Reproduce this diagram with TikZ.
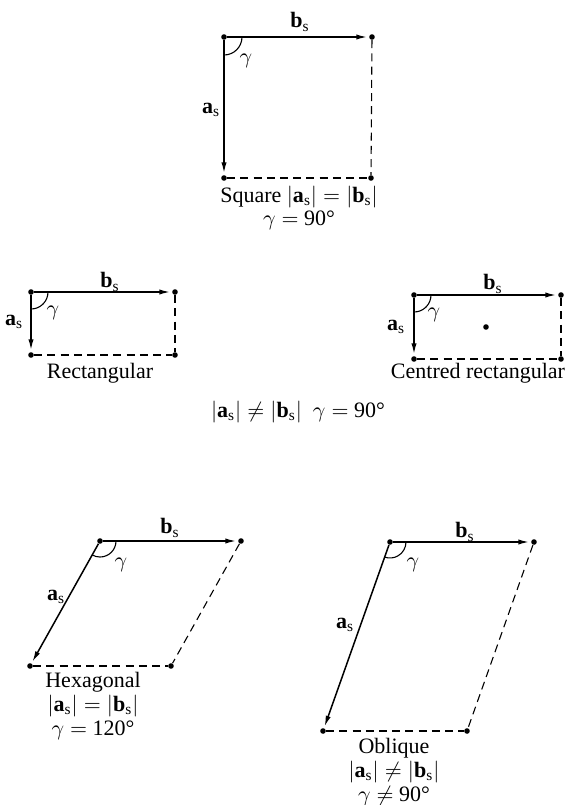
\documentclass[tikz,border=0pt]{standalone}
\usepackage{fontspec}
\setmainfont{Liberation Serif}
\usetikzlibrary{arrows.meta,positioning,calc}
\tikzset{
  site/.style={circle,fill=black,inner sep=0pt,minimum size=2.8pt},
  vec/.style={-{Latex[length=5.4pt,width=2.6pt]},line width=0.75pt,shorten >=0.8pt},
  cellside/.style={line width=0.55pt,dash pattern=on 4pt off 2.6pt},
  anglearc/.style={line width=0.55pt},
  lbl/.style={inner sep=0.5pt,font=\fontsize{11}{12.5}\selectfont},
  caption/.style={align=center,inner sep=0.5pt,font=\fontsize{11}{11.8}\selectfont}
}
\newcommand{\av}{$\mathbf{a}_\mathrm{s}$}
\newcommand{\bv}{$\mathbf{b}_\mathrm{s}$}
\begin{document}
\begin{tikzpicture}[x=0.5pt,y=-0.5pt]
  \useasboundingbox (0,0) rectangle (572,805);
  % square
  \node[site] (sq0) at (224,37) {};
  \node[site] (sqb) at (372,37) {};
  \node[site] (sqa) at (224,178) {};
  \node[site] (sqab) at (371,178) {};
  \draw[vec] (sq0) -- (sqb);
  \draw[vec] (sq0) -- (sqa);
  \draw[cellside] (sqb) -- (sqab);
  \draw[cellside] (sqa) -- (sqab);
  \draw[anglearc] (sq0) ++(18,0) arc[start angle=0,end angle=90,radius=18];
  \node[lbl] (sqbl) at (300,22) {\bv};
  \node[lbl] (sqal) at (211,110) {\av};
  \node[lbl] (sqgl) at (246,61) {$\gamma$};
  \node[caption] (sqcap) at (299,208) {Square $|\mathbf{a}_\mathrm{s}| = |\mathbf{b}_\mathrm{s}|$\\$\gamma =$ 90°};
  % rectangular
  \node[site] (rc0) at (31,292) {};
  \node[site] (rcb) at (175,292) {};
  \node[site] (rca) at (31,355) {};
  \node[site] (rcab) at (175,355) {};
  \draw[vec] (rc0) -- (rcb);
  \draw[vec] (rc0) -- (rca);
  \draw[cellside] (rcb) -- (rcab);
  \draw[cellside] (rca) -- (rcab);
  \draw[anglearc] (rc0) ++(17,0) arc[start angle=0,end angle=90,radius=17];
  \node[lbl] (rcbl) at (110,282) {\bv};
  \node[lbl] (rcal) at (14,322) {\av};
  \node[lbl] (rcgl) at (53,313) {$\gamma$};
  \node[caption] (rccap) at (100,373) {Rectangular};
  % centred rectangular
  \node[site] (cr0) at (414,295) {};
  \node[site] (crb) at (561,295) {};
  \node[site] (cra) at (414,359) {};
  \node[site] (crab) at (561,359) {};
  \node[site] (crc) at (486,327) {};
  \draw[vec] (cr0) -- (crb);
  \draw[vec] (cr0) -- (cra);
  \draw[cellside] (crb) -- (crab);
  \draw[cellside] (cra) -- (crab);
  \draw[anglearc] (cr0) ++(17,0) arc[start angle=0,end angle=90,radius=17];
  \node[lbl] (crbl) at (493,284) {\bv};
  \node[lbl] (cral) at (396,327) {\av};
  \node[lbl] (crgl) at (434,315) {$\gamma$};
  \node[caption] (crcap) at (478,373) {Centred rectangular};
  \node[caption] (rectcap) at (298,412) {$|\mathbf{a}_\mathrm{s}| \neq |\mathbf{b}_\mathrm{s}|$ \ $\gamma =$ 90°};
  % hexagonal
  \node[site] (hx0) at (100,541) {};
  \node[site] (hxb) at (241,541) {};
  \node[site] (hxa) at (30,666) {};
  \node[site] (hxab) at (171,666) {};
  \draw[vec] (hx0) -- (hxb);
  \draw[vec] (hx0) -- (hxa);
  \draw[cellside] (hxb) -- (hxab);
  \draw[cellside] (hxa) -- (hxab);
  \draw[anglearc] (hx0) ++(16,0) arc[start angle=0,end angle=119,radius=16];
  \node[lbl] (hxbl) at (170,528) {\bv};
  \node[lbl] (hxal) at (56,597) {\av};
  \node[lbl] (hxgl) at (121,565) {$\gamma$};
  \node[caption] (hxcap) at (93,706) {Hexagonal\\$|\mathbf{a}_\mathrm{s}| = |\mathbf{b}_\mathrm{s}|$\\$\gamma =$ 120°};
  % oblique
  \node[site] (ob0) at (390,542) {};
  \node[site] (obb) at (534,542) {};
  \node[site] (oba) at (323,731) {};
  \node[site] (obab) at (467,731) {};
  \draw[vec] (ob0) -- (obb);
  \draw[vec] (ob0) -- (oba);
  \draw[cellside] (obb) -- (obab);
  \draw[cellside] (oba) -- (obab);
  \draw[anglearc] (ob0) ++(16,0) arc[start angle=0,end angle=109.5,radius=16];
  \node[lbl] (obbl) at (465,532) {\bv};
  \node[lbl] (obal) at (345,625) {\av};
  \node[lbl] (obgl) at (413,565) {$\gamma$};
  \node[caption] (obcap) at (394,772) {Oblique\\$|\mathbf{a}_\mathrm{s}| \neq |\mathbf{b}_\mathrm{s}|$\\$\gamma \neq$ 90°};
\end{tikzpicture}
\end{document}
